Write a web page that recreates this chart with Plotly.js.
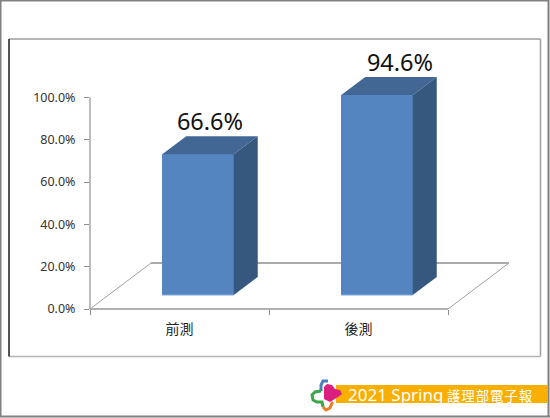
<!DOCTYPE html>
<html><head><meta charset="utf-8">
<script src="https://cdn.plot.ly/plotly-3.0.1.min.js"></script>
<style>html,body{margin:0;padding:0;background:#fff}#c{width:550px;height:418px}</style>
</head><body><div id="c"></div>
<script>
const categories = ['前測', '後測'];
const categoryPos = [0.5, 1.5];
const values = [66.6, 94.6];
const labels = ['66.6%', '94.6%'];
const yTicks = [0, 20, 40, 60, 80, 100];

const W = 550, H = 418;
const yUnit = 2.115, xUnit = 179;
const L = 90, T = 50, PW = 420, PH = 259;
const yMax = PH / yUnit;
const barShift = 18.5 / xUnit, barW = 71.5 / xUnit;
const depthX = 24 / xUnit, depthY = 18 / yUnit, base = 14 / yUnit;
const floorDx = 61 / xUnit, floorDy = 46 / yUnit;
const labelShift = [0, 11 / xUnit];

const cx = categoryPos.map(c => c + barShift);
const traces = [{
  type: 'bar', x: cx, y: values, base: [base, base], width: barW,
  marker: {color: '#5585C0', line: {width: 0}}, cliponaxis: false, hoverinfo: 'skip', showlegend: false
}];
cx.forEach((c, i) => {
  const l = c - barW / 2, r = c + barW / 2, top = base + values[i];
  traces.push({type: 'scatter', mode: 'lines', fill: 'toself', fillcolor: '#426795', line: {width: 0},
    x: [l, r, r + depthX, l + depthX, l], y: [top, top, top + depthY, top + depthY, top],
    cliponaxis: false, hoverinfo: 'skip', showlegend: false});
  traces.push({type: 'scatter', mode: 'lines', fill: 'toself', fillcolor: '#36587F', line: {width: 0},
    x: [r, r + depthX, r + depthX, r, r], y: [base, base + depthY, top + depthY, top, base],
    cliponaxis: false, hoverinfo: 'skip', showlegend: false});
  traces.push({type: 'scatter', mode: 'lines', line: {width: 1, color: '#7FA8DA'},
    x: [l, r], y: [base, base], cliponaxis: false, hoverinfo: 'skip', showlegend: false});
});
traces.push({type: 'scatter', mode: 'text', x: cx.map((c, i) => c + depthX / 2 + labelShift[i]),
  y: values.map(v => base + v + depthY), text: labels, textposition: 'top center',
  textfont: {family: '"Noto Sans", sans-serif', size: 23.5, color: '#111'},
  cliponaxis: false, hoverinfo: 'skip', showlegend: false});

const frame = (x0, y0, x1, y1, color, w) => ({type: 'line', xref: 'paper', yref: 'paper',
  x0: (x0 - L) / PW, x1: (x1 - L) / PW, y0: (T + PH - y0) / PH, y1: (T + PH - y1) / PH,
  line: {color, width: w}, layer: 'below'});
const P = (x, y) => ((x - L) / PW).toFixed(4) + ',' + ((T + PH - y) / PH).toFixed(4);
const logoPath = (pts, close) => 'M' + pts.map(p => P(p[0], p[1])).join(' L') + (close ? ' Z' : '');
const rect = (x0, y0, x1, y1, color, layer) => ({type: 'rect', xref: 'paper', yref: 'paper',
  x0: (x0 - L) / PW, x1: (x1 - L) / PW, y0: (T + PH - y0) / PH, y1: (T + PH - y1) / PH,
  fillcolor: color, line: {width: 0}, layer: layer || 'below'});
const stroke = (pts, color, w) => ({type: 'path', xref: 'paper', yref: 'paper', path: logoPath(pts, false),
  line: {color, width: w}, fillcolor: 'rgba(0,0,0,0)', layer: 'above'});

const shapes = [
  frame(1, 0.5, 549, 0.5, '#808080', 2), frame(0.5, 0, 0.5, 417, '#808080', 2),
  frame(548.5, 0, 548.5, 417, '#808080', 2), frame(0, 416.5, 550, 416.5, '#808080', 2),
  frame(9, 39, 540.5, 39, '#9E9E9E', 1.5), frame(540.5, 39, 540.5, 356.5, '#9E9E9E', 1.5),
  frame(9, 356.5, 540.5, 356.5, '#B5B5B5', 1.5), frame(9, 39, 9, 356.5, '#1A1A1A', 1.5),
  {type: 'line', xref: 'paper', yref: 'y', layer: 'below', x0: 0, x1: 0, y0: 0, y1: 100, line: {color: '#A6A6A6', width: 1.5}},
  {type: 'line', xref: 'x', yref: 'y', layer: 'below', x0: 0, x1: floorDx, y0: 0, y1: floorDy, line: {color: '#A0A0A0', width: 1}},
  {type: 'line', xref: 'x', yref: 'y', layer: 'below', x0: 2, x1: 2 + floorDx, y0: 0, y1: floorDy, line: {color: '#A0A0A0', width: 1}},
  {type: 'line', xref: 'x', yref: 'paper', layer: 'below', x0: 0, x1: 2, y0: 0, y1: 0, line: {color: '#B0B0B0', width: 2}},
  {type: 'line', xref: 'x', yref: 'y', layer: 'below', x0: floorDx, x1: 2 + floorDx, y0: floorDy, y1: floorDy, line: {color: '#ABABAB', width: 2}},
  rect(336, 385, 548, 403, '#F9AF00', 'above'),
  stroke([[321,391],[321,385],[323,381],[328,381]], '#4A7FC0', 3),
  stroke([[321,391],[315,392],[312,395],[313,400],[317,402],[322,402],[323,407]], '#3BA54A', 3),
  stroke([[323,407],[326,410],[330,408],[332,403],[333,402]], '#EE7D22', 3),
  {type: 'path', xref: 'paper', yref: 'paper', layer: 'above', fillcolor: '#DB1F7E', line: {width: 0},
   path: logoPath([[324,387],[327,384],[332,385],[335,389],[340,390],[342,394],[338,397],[330,402],[324,399]], true)}
];

const ann = (x, y, text, size, font) => ({xref: 'paper', yref: 'paper', x: (x - L) / PW, y: (T + PH - y) / PH,
  xanchor: 'left', yanchor: 'middle', text, showarrow: false, font: {family: font, size, color: '#FFFFFF'}});

const layout = {
  width: W, height: H, paper_bgcolor: '#fff', plot_bgcolor: 'rgba(0,0,0,0)',
  margin: {l: L, t: T, r: W - L - PW, b: H - T - PH, pad: 0}, showlegend: false,
  xaxis: {range: [0, PW / xUnit], tickmode: 'array', tickvals: categoryPos, ticktext: categories,
    ticks: '', showline: false, showgrid: false, zeroline: false, ticklabelstandoff: 10,
    tickfont: {family: '"Noto Sans CJK TC", sans-serif', size: 14, color: '#222'},
    minor: {tickmode: 'array', tickvals: [0, 1, 2], ticks: 'outside', ticklen: 5, tickwidth: 1, tickcolor: '#8C8C8C', showgrid: false}},
  yaxis: {range: [0, yMax], tickmode: 'array', tickvals: yTicks, ticktext: yTicks.map(v => v.toFixed(1) + '%'),
    ticks: 'outside', ticklen: 5, tickwidth: 1, tickcolor: '#8C8C8C', showline: false,
    showgrid: false, zeroline: false, ticklabelstandoff: 6, ticklabelshift: 1.5,
    tickfont: {family: '"Noto Sans", sans-serif', size: 12.5, color: '#333'}},
  shapes,
  annotations: [
    ann(346, 394, '2021 Spring', 17, '"Noto Sans", sans-serif'),
    ann(445, 395, '護\u200A理\u200A部\u200A電\u200A子\u200A報', 13.5, '"Noto Sans CJK TC", sans-serif')
  ],
  bargap: 0
};
Plotly.newPlot('c', traces, layout, {displayModeBar: false, staticPlot: true});
</script></body></html>
